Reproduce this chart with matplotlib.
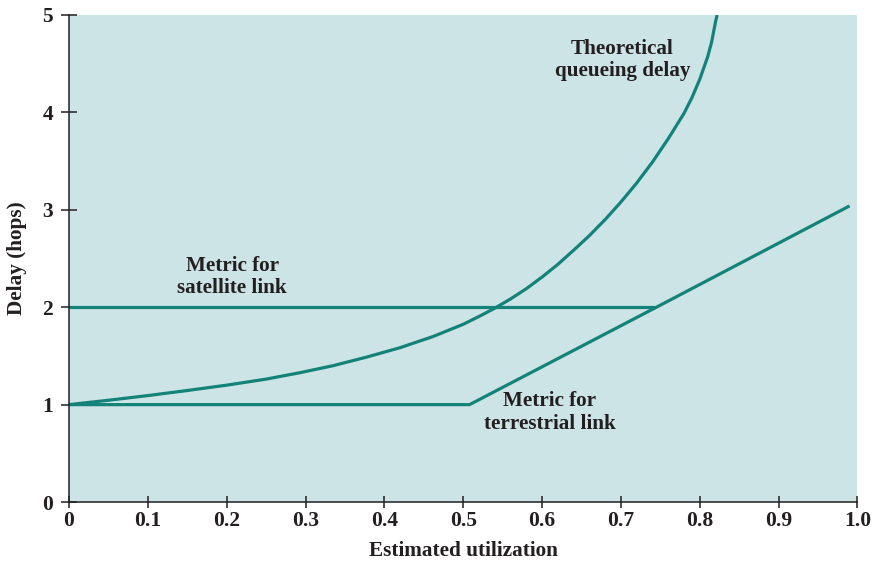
import matplotlib
matplotlib.use('Agg')
import matplotlib.pyplot as plt

# values
util_queue = [0.00, 0.05, 0.10, 0.15, 0.20, 0.25, 0.293, 0.335, 0.377, 0.42,
              0.462, 0.50, 0.52, 0.54, 0.56, 0.58, 0.60, 0.62, 0.64, 0.66, 0.68,
              0.70, 0.72, 0.74, 0.76, 0.77, 0.78, 0.79, 0.80, 0.81, 0.815,
              0.82, 0.822]
delay_queue = [1.000, 1.045, 1.093, 1.145, 1.200, 1.262, 1.328, 1.40, 1.487, 1.585,
               1.70, 1.825, 1.905, 1.99, 2.085, 2.19, 2.31, 2.44, 2.585, 2.735, 2.90,
               3.08, 3.275, 3.49, 3.73, 3.86, 3.99, 4.15, 4.34, 4.57, 4.72,
               4.93, 5.00]

util_sat = [0.0, 0.745]
delay_sat = [2.0, 2.0]

util_terr = [0.0, 0.508, 0.745, 0.99]
delay_terr = [1.0, 1.0, 2.0, 3.04]

x_ticks = [0, 0.1, 0.2, 0.3, 0.4, 0.5, 0.6, 0.7, 0.8, 0.9, 1.0]
x_ticklabels = ['0', '0.1', '0.2', '0.3', '0.4', '0.5', '0.6', '0.7', '0.8', '0.9', '1.0']
y_ticks = [0, 1, 2, 3, 4, 5]

LINE = '#138279'
BG = '#cde4e6'
TXT = '#231f20'

plt.rcParams['font.family'] = ['Liberation Serif', 'DejaVu Serif']
plt.rcParams['font.weight'] = 'bold'

fig = plt.figure(figsize=(8.77, 5.66), dpi=100)
ax = fig.add_axes([0.0787, 0.113, 0.899, 0.8605])
ax.set_facecolor(BG)

ax.plot(util_queue, delay_queue, color=LINE, lw=2.3, solid_capstyle='butt',
        solid_joinstyle='round')
ax.plot(util_sat, delay_sat, color=LINE, lw=2.3, solid_capstyle='butt')
ax.plot(util_terr, delay_terr, color=LINE, lw=2.3, solid_capstyle='butt')

ax.set_xlim(0, 1.0)
ax.set_ylim(0, 5)
ax.set_xticks(x_ticks)
ax.set_xticklabels(x_ticklabels)
ax.set_yticks(y_ticks)

for s in ['top', 'right']:
    ax.spines[s].set_visible(False)
for s in ['left', 'bottom']:
    ax.spines[s].set_color(TXT)
    ax.spines[s].set_linewidth(1.1)

ax.tick_params(axis='x', direction='inout', length=9, width=1.1, color=TXT,
               labelsize=15.5, labelcolor=TXT, pad=2)
ax.tick_params(axis='y', direction='inout', length=11, width=1.1, color=TXT,
               labelsize=15.5, labelcolor=TXT, pad=6)

ax.set_xlabel('Estimated utilization', fontsize=15.3, fontweight='bold',
              color=TXT, labelpad=7)
ax.set_ylabel('Delay (hops)', fontsize=15.3, fontweight='bold',
              color=TXT, labelpad=11)

kw = dict(fontsize=15.2, fontweight='bold', color=TXT, ha='center',
          va='center', linespacing=1.15)
ax.text(0.702, 4.54, 'Theoretical\nqueueing delay', **kw)
ax.text(0.207, 2.31, 'Metric for\nsatellite link', **kw)
ax.text(0.610, 0.92, 'Metric for\nterrestrial link', **kw)

fig.savefig('out.png', dpi=100)
